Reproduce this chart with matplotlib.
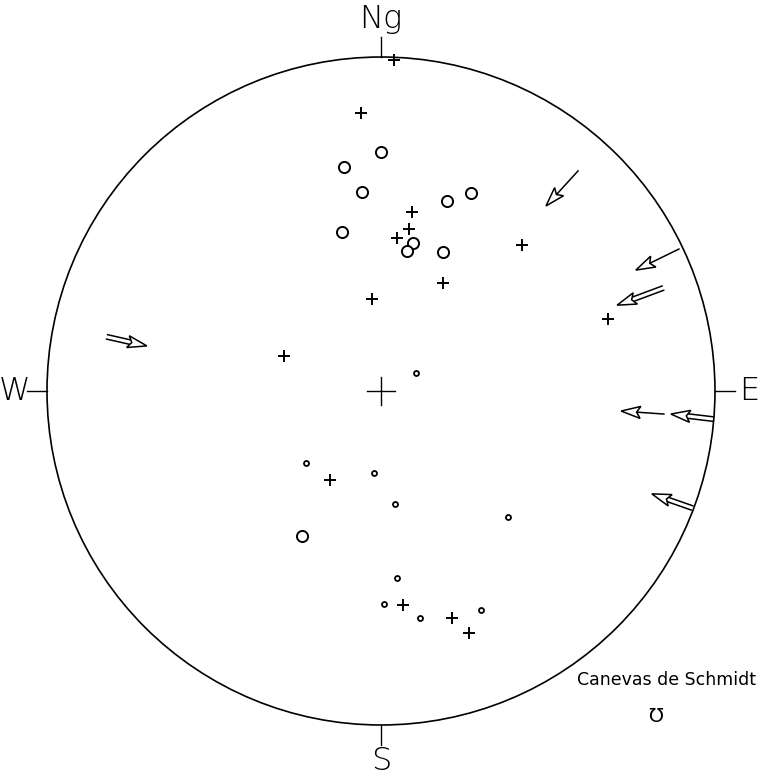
import numpy as np
import matplotlib.pyplot as plt
from matplotlib.patches import Circle, Polygon

# positions on the net, unit circle = primitive circle
cross_x = [0.039, -0.060, 0.093, 0.084, 0.048, 0.422, 0.186, -0.027, 0.680, -0.290, -0.153, 0.066, 0.213, 0.263]
cross_y = [0.991, 0.832, 0.536, 0.485, 0.458, 0.437, 0.323, 0.275, 0.216, 0.105, -0.266, -0.641, -0.680, -0.725]

ring_x = [0.000, -0.111, -0.057, 0.269, 0.198, -0.117, 0.096, 0.078, 0.186, -0.237]
ring_y = [0.716, 0.671, 0.596, 0.593, 0.569, 0.476, 0.443, 0.419, 0.416, -0.434]

dot_x = [0.105, -0.225, -0.021, 0.042, 0.380, 0.048, 0.009, 0.117, 0.299]
dot_y = [0.054, -0.216, -0.246, -0.338, -0.377, -0.560, -0.638, -0.680, -0.656]

# arrows: start, tip, double shaft
arr_x0 = [0.590, 0.892, 0.844, 0.847, 0.994, 0.931, -0.820]
arr_y0 = [0.659, 0.425, 0.308, -0.069, -0.084, -0.350, 0.162]
arr_x1 = [0.494, 0.763, 0.707, 0.719, 0.868, 0.811, -0.701]
arr_y1 = [0.554, 0.362, 0.257, -0.060, -0.069, -0.308, 0.135]
arr_dbl = [False, False, True, False, True, True, True]

cardinals = ['Ng', 'E', 'S', 'W']


def draw_arrow(ax, x0, y0, x1, y1, dbl):
    d = np.array([x1 - x0, y1 - y0])
    d = d / np.hypot(*d)
    n = np.array([-d[1], d[0]])
    tip = np.array([x1, y1])
    hl, hw = 0.058, 0.018
    base = tip - hl * d
    notch = tip - 0.8 * hl * d
    head = [tip, base + hw * n, notch, base - hw * n]
    ax.add_patch(Polygon(head, closed=True, fc='white', ec='black', lw=1.1, zorder=3))
    if dbl:
        for s in (-0.0068, 0.0068):
            p0 = np.array([x0, y0]) + s * n
            p1 = notch + s * n
            ax.plot([p0[0], p1[0]], [p0[1], p1[1]], color='black', lw=1.1)
    else:
        ax.plot([x0, notch[0]], [y0, notch[1]], color='black', lw=1.1)


fig = plt.figure(figsize=(7.67, 7.76), dpi=100)
ax = fig.add_axes([0, 0, 1, 1])
ax.set_xlim(-1.1407, 1.1557)
ax.set_ylim(-1.1527, 1.1707)
ax.set_aspect('equal')
ax.axis('off')

ax.add_patch(Circle((0, 0), 1.0, fill=False, ec='black', lw=1.2))

# cardinal ticks and labels
t = 0.06
ax.plot([0, 0], [1, 1 + t], color='black', lw=1.0)
ax.plot([0, 0], [-1, -1 - t], color='black', lw=1.0)
ax.plot([1, 1 + t], [0, 0], color='black', lw=1.0)
ax.plot([-1, -1 - t], [0, 0], color='black', lw=1.0)
fs = 23
ax.text(0, 1.115, cardinals[0], ha='center', va='center', fontsize=fs, fontweight='light')
ax.text(1.103, 0, cardinals[1], ha='center', va='center', fontsize=fs, fontweight='light')
ax.text(0, -1.108, cardinals[2], ha='center', va='center', fontsize=fs, fontweight='light')
ax.text(-1.098, 0, cardinals[3], ha='center', va='center', fontsize=fs, fontweight='light')

# centre cross
ax.plot([-0.042, 0.042], [0, 0], color='black', lw=1.0)
ax.plot([0, 0], [-0.042, 0.042], color='black', lw=1.0)

ax.plot(cross_x, cross_y, '+', color='black', ms=8, mew=1.4, ls='none')
ax.plot(ring_x, ring_y, 'o', mfc='white', mec='black', ms=8, mew=1.4, ls='none')
ax.plot(dot_x, dot_y, 'o', mfc='white', mec='black', ms=3.6, mew=1.3, ls='none')

for i in range(len(arr_x0)):
    draw_arrow(ax, arr_x0[i], arr_y0[i], arr_x1[i], arr_y1[i], arr_dbl[i])

ax.text(0.587, -0.866, 'Canevas de Schmidt', ha='left', va='center', fontsize=12.5)
ax.text(0.823, -0.975, '\u01b1', ha='center', va='center', fontsize=14)

fig.savefig('out.png', dpi=100)
